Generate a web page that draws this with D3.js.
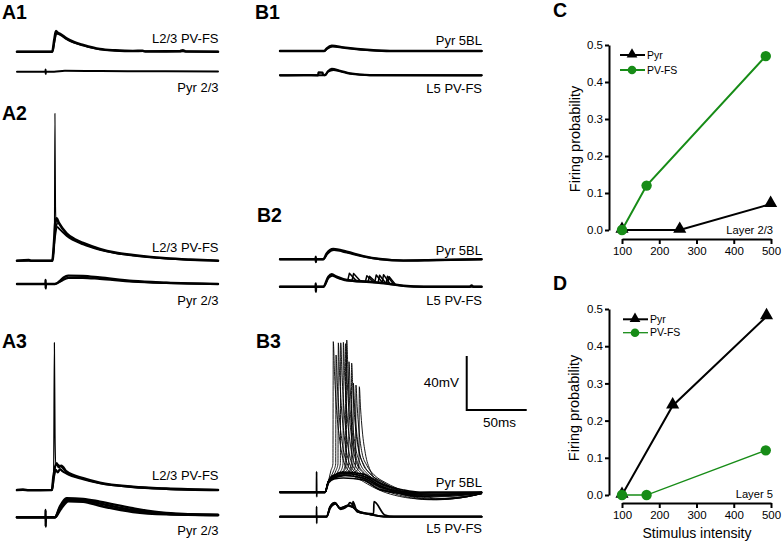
<!DOCTYPE html>
<html><head><meta charset="utf-8">
<script src="https://cdn.jsdelivr.net/npm/d3@7"></script>
<style>body{margin:0;background:#fff}svg{display:block}text{font-family:"Liberation Sans",Arial,sans-serif;fill:#000}</style>
</head><body><svg id="fig" width="782" height="550"></svg>
<script>
// ---------- DATA: panels C & D (firing probability vs stimulus intensity) ----------
const xTicks = [100, 200, 300, 400, 500];
const yTicks = [0, 0.1, 0.2, 0.3, 0.4, 0.5];
const seriesNames = ["Pyr", "PV-FS"];
const pyrC_x = [100, 255, 499], pyrC_y = [0, 0, 0.07];
const pvC_x  = [100, 166, 486], pvC_y  = [0, 0.12, 0.47];
const pyrD_x = [100, 236, 488], pyrD_y = [0, 0.24, 0.48];
const pvD_x  = [100, 166, 486], pvD_y  = [0, 0, 0.12];

// ---------- DATA: recorded traces, keypoints [time ms, mV above baseline] ----------
const A1pv  = [[0,0],[29.5,0],[31.2,9],[32.6,15.3],[34,14],[36,13.2],[41.4,9.9],[48,7],[55.3,5],[69.2,2],[82,1],[96.9,0.5],[105,0.7],[107,0.2],[136,0.3],[138.6,1.1],[141,0.2],[168,0]];
const A1pv2 = [[0,0],[29.5,0],[31.2,7],[33,13.5],[36,12.5],[41.4,9.3],[55.3,4.6],[69.2,1.8],[96.9,0.4],[168,0]];
const A1pyr = [[0,0],[23.8,0],[23.9,1.7],[24,-1.7],[24.1,0],[31,0],[40,0.7],[70,0.5],[120,0.3],[168,0.1]];

const A2pv  = [[0,0],[10,0.4],[12,0],[29.5,0],[31,14],[32,28],[33.1,31.4],[35,28],[41.4,20.3],[48,16],[55.3,13.1],[69.2,8.7],[82,6],[96.9,4.2],[124.7,1.8],[145,0.8],[168,0]];
const A2pv2 = [[0,0],[29.5,0],[31.5,16],[33.5,25],[36,23],[41.4,18.5],[55.3,12],[69.2,8],[96.9,3.8],[124.7,1.5],[168,0]];
const A2spk = [[0,0],[29.5,0],[31.2,12],[31.7,109],[32.2,40],[32.8,25],[34,28],[41.4,19.5],[55.3,12.5],[69.2,8.3],[96.9,4],[124.7,1.6],[168,0]];
const A2pyr = [[0,0],[23.8,0],[23.9,3],[24,-3.2],[24.1,0],[31.7,0],[35.8,2.2],[39,4.8],[42.75,6.2],[55,6],[69.2,4.8],[96.9,2.2],[124.7,1.0],[168,0]];
const A2pyr2= [[0,0],[31.7,0],[36.5,2],[43,4.6],[55,4.6],[69.2,3.8],[96.9,1.8],[124.7,0.8],[168,0]];

const A3pv  = [[0,0],[5,0.3],[10,-0.2],[29.2,0],[30.5,10],[33.1,19.8],[35,17],[37,18],[41.4,13.6],[55.3,8.7],[69.2,5.4],[96.9,2.4],[124.7,1.0],[168,0]];
const A3pv2 = [[0,0],[29.2,0],[30.5,8],[32.5,15],[34,13],[36,15.5],[38,14],[41.4,12.2],[55.3,8],[69.2,5],[96.9,2.2],[124.7,0.9],[168,0]];
const A3spk = [[0,0],[29.2,0],[30.6,12],[31.25,109.1],[31.8,40],[32.4,18],[33.5,19],[41.4,13.2],[55.3,8.5],[69.2,5.2],[96.9,2.3],[168,0]];
const A3pyr = [[0,0],[23.8,0],[23.9,5.4],[24,-6.9],[24.1,0],[31.7,0],[35.8,7.9],[41.4,14.1],[55.3,13.6],[69.2,11.6],[96.9,6.7],[124.7,3.2],[168,1.7]];
const A3pyr2= [[0,0],[31.7,0],[36.5,6],[43,12],[55.3,11.5],[69.2,8.6],[96.9,4],[124.7,2.3],[168,1.7]];
const A3pyr3= [[0,0],[31.7,0],[36,7],[42,13],[55.3,12.6],[69.2,10.2],[96.9,5.3],[124.7,2.7],[168,1.7]];

const B1pyr = [[0,0],[36.9,0],[39,2],[43.1,3.9],[52.8,2.7],[75,0.7],[91.7,0],[168,0]];
const B1pyr2= [[0,0],[36.9,0],[39.5,1.8],[44,3.3],[52.8,2.4],[75,0.5],[91.7,0],[168,0]];
const B1pv  = [[0,0],[20,0.2],[31.8,0],[32,2.2],[35.5,2],[35.8,0.5],[37.5,0.2],[40,3],[43.1,4.7],[50,3.4],[58.3,1.5],[75,0.2],[168,0]];
const B1pv2 = [[0,0],[37.5,0],[40,2.6],[44.5,4],[50,3],[58.3,1.2],[75,0.1],[168,0]];

const B2pyr = [[0,0],[29.7,0],[29.8,2],[29.9,-2],[30,0],[36.1,0],[38.9,4.4],[44.4,7.6],[55.6,5.6],[69.4,2.4],[83.3,0.2],[102.8,-1],[130.6,-0.5],[168,0]];
const B2pyr2= [[0,0],[36.1,0],[39.5,4],[45,6.8],[55.6,5],[69.4,2],[83.3,0],[102.8,-0.8],[168,0]];
const B2pv  = [[0,0],[29.7,0],[29.8,2.5],[29.9,-3.7],[30,0],[36.1,0],[40.3,7.4],[43.1,9.2],[47.2,7.4],[55.6,5.0],[75,3.7],[88.9,2.5],[102.8,0.7],[120,0],[158,0],[159.7,1],[161,0],[168,0]];
const B2pv2 = [[0,0],[36.1,0],[40.5,6.5],[43.5,8.2],[47.2,6.8],[55.6,4.5],[75,3.3],[88.9,2.2],[102.8,0.5],[120,0],[168,0]];
const B2spikelets = [
  [[56.5,4.9],[57.8,9.9],[63.5,4.5]], [[60,4.7],[61.3,9.7],[67,4.3]],
  [[71.2,3.9],[72.4,8.1],[78,3.5]],   [[73.4,3.7],[74.6,7.7],[80,3.3]],
  [[79,3.3],[80.2,8.7],[85.5,2.9]],   [[81.8,3.0],[83,8.5],[88,2.7]],
  [[85.1,2.8],[86.3,8.9],[91.5,2.4]], [[88.4,2.5],[89.6,7.8],[94.5,2.0]],
  [[89.8,2.4],[91,7.4],[96,1.9]]
];

const B3sub = [
  [[0,0],[30.4,0],[30.5,15.3],[30.6,-3.3],[30.7,0],[37.5,0],[40.3,8],[44.4,12],[52.8,15],[69.4,13.5],[83.3,6.7],[102.8,1.7],[116.7,0],[168,0]],
  [[0,0],[37.5,0],[40.3,7.5],[44.4,11],[52.8,12.5],[69.4,10.5],[83.3,4],[102.8,0.5],[120,-0.5],[168,0]],
  [[0,0],[37.5,0],[40.5,7],[45,10],[52.8,10.6],[69.4,9.1],[83.3,2],[102.8,-0.5],[125,0],[168,0]],
  [[0,0],[37.5,0],[40.3,8],[44.4,12.5],[52.8,14],[69.4,12],[83.3,5],[102.8,-1.5],[116.7,-3],[135,-2.5],[168,-0.5]]
];
const B3spikes = [
  [[0,0],[37.5,0],[40.3,8],[42.4,16],[44.1,21],[44.4,111.6],[45.4,89.3],[46.9,64.7],[49.4,41.3],[53.4,22],[59.4,14],[69.4,8],[84.4,1],[99.4,-3],[119.4,-5],[155,-3],[168,-1]],
  [[0,0],[37.5,0],[40.3,8],[44.7,16],[46.4,21],[46.7,101.7],[47.7,81.4],[49.2,59],[51.7,37.6],[55.7,22],[61.7,14],[71.7,8],[86.7,1],[101.7,-1],[121.7,-2],[155,-1],[168,0]],
  [[0,0],[37.5,0],[40.3,8],[46.6,16],[48.3,21],[48.6,110.7],[49.6,88.6],[51.1,64.2],[53.6,41],[57.6,22],[63.6,14],[73.6,8],[88.6,1],[103.6,-3],[123.6,-5.5],[155,-3],[168,-1]],
  [[0,0],[37.5,0],[40.3,8],[48.6,16],[50.3,21],[50.6,110.7],[51.6,88.6],[53.1,64.2],[55.6,41],[59.6,22],[65.6,14],[75.6,8],[90.6,1],[105.6,-1.5],[125.6,-2],[155,-1],[168,0]],
  [[0,0],[37.5,0],[40.3,8],[50.8,16],[52.5,21],[52.8,111.1],[53.8,88.9],[55.3,64.4],[57.8,41.1],[61.8,22],[67.8,14],[77.8,8],[92.8,1],[107.8,-3],[127.8,-5.5],[155,-3.5],[168,-1]],
  [[0,0],[37.5,0],[40.3,8],[52.7,16],[54.4,21],[54.7,110.1],[55.7,88.1],[57.2,63.9],[59.7,40.7],[63.7,22],[69.7,14],[79.7,8],[94.7,1],[109.7,-1],[129.7,-1.5],[155,-0.5],[168,0]],
  [[0,0],[37.5,0],[40.3,8],[53.6,16],[55.3,21],[55.6,112.8],[56.6,90.2],[58.1,65.4],[60.6,41.7],[64.6,22],[70.6,14],[80.6,8],[95.6,1],[110.6,-3],[130.6,-5.5],[155,-3.5],[168,-1]],
  [[0,0],[37.5,0],[40.3,8],[55.5,16],[57.2,21],[57.5,96.7],[58.5,77.4],[60,56.1],[62.5,35.8],[66.5,22],[72.5,14],[82.5,8],[97.5,1],[112.5,-2],[132.5,-3],[155,-2],[168,-0.5]],
  [[0,0],[37.5,0],[40.3,8],[57.7,16],[59.4,21],[59.7,95.7],[60.7,76.6],[62.2,55.5],[64.7,35.4],[68.7,22],[74.7,14],[84.7,8],[99.7,1],[114.7,-3],[134.7,-5],[155,-3.5],[168,-1]],
  [[0,0],[37.5,0],[40.3,8],[59.1,16],[60.8,21],[61.1,80.9],[62.1,64.7],[63.6,46.9],[66.1,29.9],[70.1,20],[76.1,13],[86.1,7],[101.1,1],[116.1,-1],[136.1,-1.5],[155,-0.5],[168,0]],
  [[0,0],[37.5,0],[40.3,8],[61.3,16],[63,21],[63.3,79.4],[64.3,63.5],[65.8,46.1],[68.3,29.4],[72.3,20],[78.3,13],[88.3,7],[103.3,1],[118.3,-3],[138.3,-4.5],[155,-3],[168,-1]],
  [[0,0],[37.5,0],[40.3,8],[64.1,16],[65.8,21],[66.1,78.2],[67.1,62.6],[68.6,45.4],[71.1,28.9],[75.1,16.5],[83.3,7],[93,3],[106,0],[121,-2],[141,-3],[155,-2],[168,-0.5]]
];
const B3pv = [
  [[0,0],[30.4,0],[30.5,7.4],[30.6,-4.9],[30.7,0],[38.9,0],[41.7,7.4],[45.8,10.4],[50,6.2],[57,8.6],[66.7,3.7],[75,1.8],[89,0],[168,0]],
  [[0,0],[38.9,0],[42,6.5],[46.5,9.5],[50.5,5.5],[56,7.6],[58.3,10.4],[64.4,3.7],[75,1.6],[89,0],[168,0]],
  [[0,0],[38.9,0],[41.7,7],[45.8,10],[50,6.5],[57,8],[60.5,7],[60.8,11.1],[64.4,3.7],[75,1.8],[89,0],[168,0]],
  [[0,0],[38.9,0],[41.7,7.2],[45.8,10.2],[50,6],[57,8.3],[66.7,3.5],[78,2.2],[78.3,11.1],[87.5,1.2],[95,0],[168,0]]
];
const scaleBar = {mV: 40, ms: 50};

// ---------- DRAWING ----------
const svg = d3.select("#fig");
const FONT = '"Liberation Sans",Arial,sans-serif';
const green = "#178c17";

const xA = d3.scaleLinear().domain([0, 168]).range([17, 218]);
const xB = d3.scaleLinear().domain([0, 168]).range([280, 481.6]);
const mvY = base => d3.scaleLinear().domain([0, 40]).range([base, base - 54]);

function trace(data, xs, base, w, curve) {
  const ys = mvY(base);
  svg.append("path").datum(data)
    .attr("d", d3.line().x(d => xs(d[0])).y(d => ys(d[1])).curve(curve || d3.curveMonotoneX))
    .attr("fill", "none").attr("stroke", "#000").attr("stroke-width", w)
    .attr("stroke-linejoin", "round").attr("stroke-linecap", "round");
}
function label(t, x, y, size, anchor, weight) {
  return svg.append("text").attr("x", x).attr("y", y).attr("font-size", size)
    .attr("text-anchor", anchor || "start").attr("font-weight", weight || "normal")
    .style("font-family", FONT).text(t);
}

// Column A
trace(A1pv2, xA, 51.7, 1.8); trace(A1pv, xA, 51.7, 2.6); trace(A1pyr, xA, 71.7, 2);
trace(A2pv2, xA, 260.7, 1.8); trace(A2pv, xA, 260.7, 2.6); trace(A2spk, xA, 260.7, 1.1);
trace(A2pyr2, xA, 284, 2.2); trace(A2pyr, xA, 284, 2.4);
trace(A3pv2, xA, 490, 2.2); trace(A3pv, xA, 490, 2.6); trace(A3spk, xA, 490, 1.2);
trace(A3pyr2, xA, 517.3, 2.6); trace(A3pyr3, xA, 517.3, 2.6); trace(A3pyr, xA, 517.3, 2.4);

// Column B
trace(B1pyr2, xB, 51, 2); trace(B1pyr, xB, 51, 2.4);
trace(B1pv2, xB, 75.3, 2); trace(B1pv, xB, 75.3, 2.2);
trace(B2pyr2, xB, 259.3, 2); trace(B2pyr, xB, 259.3, 2.4);
trace(B2pv2, xB, 286.7, 2); trace(B2pv, xB, 286.7, 2.4);
B2spikelets.forEach(s => trace(s, xB, 286.7, 1.5, d3.curveLinear));
B3sub.forEach(s => trace(s, xB, 492.3, 1.7));
B3spikes.forEach(s => trace(s, xB, 492.3, 0.9));
B3pv.forEach(s => trace(s, xB, 516.7, 1.7));

// trace labels
const lab = 13;
label("L2/3 PV-FS", 218.5, 42.5, lab, "end"); label("Pyr 2/3", 218.5, 91.5, lab, "end");
label("L2/3 PV-FS", 218.5, 251.7, lab, "end"); label("Pyr 2/3", 218.5, 305, lab, "end");
label("L2/3 PV-FS", 218.5, 480, lab, "end"); label("Pyr 2/3", 218.5, 535, lab, "end");
label("Pyr 5BL", 482, 45, lab, "end"); label("L5 PV-FS", 482, 93.3, lab, "end");
label("Pyr 5BL", 482, 255, lab, "end"); label("L5 PV-FS", 482, 305, lab, "end");
label("Pyr 5BL", 482, 486.7, lab, "end"); label("L5 PV-FS", 482, 533.3, lab, "end");

// panel letters
[["A1",2,18.5],["A2",2,120],["A3",2,348],["B1",255,18.5],["B2",257,221.7],["B3",256,348],["C",553,17],["D",553,290]]
  .forEach(p => label(p[0], p[1], p[2], 19.5, "start", "bold"));

// scale bar
const sbX = xB(155.6), sbYs = mvY(410);
svg.append("path")
  .attr("d", `M${sbX},${sbYs(scaleBar.mV)}V${sbYs(0)}H${xB(155.6 + scaleBar.ms)}`)
  .attr("fill", "none").attr("stroke", "#000").attr("stroke-width", 2);
label(scaleBar.mV + "mV", 459, 387, 13.5, "end");
label(scaleBar.ms + "ms", 483, 427, 13.5, "start");

// ---------- panels C and D ----------
function probPanel(yTop, yZero, axisY, series, legendY, legendX0, layerText, layerY) {
  const x = d3.scaleLinear().domain([100, 500]).range([622, 771]);
  const y = d3.scaleLinear().domain([0, 0.5]).range([yZero, yTop]);
  const g = svg.append("g");
  const ya = g.append("g").attr("transform", "translate(609,0)")
    .call(d3.axisLeft(y).tickValues(yTicks).tickFormat(d3.format(".1f")).tickSize(4).tickSizeOuter(0).tickPadding(2));
  const xa = g.append("g").attr("transform", `translate(0,${axisY})`)
    .call(d3.axisBottom(x).tickValues(xTicks).tickSize(5).tickSizeOuter(0).tickPadding(3));
  [ya, xa].forEach(a => {
    a.select(".domain").attr("stroke-width", 2);
    a.selectAll(".tick line").attr("stroke-width", 2);
    a.selectAll("text").attr("font-size", 11.5).style("font-family", FONT).attr("fill", "#000");
  });
  series.forEach(s => {
    const pts = s.xs.map((v, i) => [v, s.ys[i]]);
    g.append("path").datum(pts).attr("d", d3.line().x(d => x(d[0])).y(d => y(d[1])))
      .attr("fill", "none").attr("stroke", s.color).attr("stroke-width", s.w);
    pts.forEach(p => {
      if (s.marker === "tri") g.append("path").attr("d", d3.symbol(d3.symbolTriangle, 75)())
        .attr("transform", `translate(${x(p[0])},${y(p[1]) - 1})`).attr("fill", s.color);
      else g.append("circle").attr("cx", x(p[0])).attr("cy", y(p[1])).attr("r", 5.2).attr("fill", s.color);
    });
  });
  series.forEach((s, i) => {
    const ly = legendY[i];
    g.append("line").attr("x1", legendX0).attr("x2", legendX0 + 25).attr("y1", ly).attr("y2", ly)
      .attr("stroke", s.color).attr("stroke-width", s.w);
    if (s.marker === "tri") g.append("path").attr("d", d3.symbol(d3.symbolTriangle, 50)())
      .attr("transform", `translate(${legendX0 + 12},${ly - 0.5})`).attr("fill", s.color);
    else g.append("circle").attr("cx", legendX0 + 12).attr("cy", ly).attr("r", 4.3).attr("fill", s.color);
    g.append("text").attr("x", legendX0 + 27).attr("y", ly).attr("dy", "0.35em").attr("font-size", 10.5)
      .style("font-family", FONT).text(s.name);
  });
  label(layerText, 773, layerY, 11.2, "end");
}
probPanel(45, 230, 239,
  [{name: seriesNames[0], xs: pyrC_x, ys: pyrC_y, color: "#000", w: 2, marker: "tri"},
   {name: seriesNames[1], xs: pvC_x, ys: pvC_y, color: green, w: 2, marker: "circle"}],
  [55, 70], 620, "Layer 2/3", 233.5);
probPanel(309, 495, 503,
  [{name: seriesNames[0], xs: pyrD_x, ys: pyrD_y, color: "#000", w: 2, marker: "tri"},
   {name: seriesNames[1], xs: pvD_x, ys: pvD_y, color: green, w: 1.3, marker: "circle"}],
  [319.3, 332.7], 623, "Layer 5", 497.5);

svg.append("text").attr("transform", "translate(575,139) rotate(-90)").attr("text-anchor", "middle")
  .attr("dy", "0.35em").attr("font-size", 14.5).style("font-family", FONT).text("Firing probability");
svg.append("text").attr("transform", "translate(574,408) rotate(-90)").attr("text-anchor", "middle")
  .attr("dy", "0.35em").attr("font-size", 14.5).style("font-family", FONT).text("Firing probability");
label("Stimulus intensity", 697, 538, 14, "middle");
</script></body></html>
